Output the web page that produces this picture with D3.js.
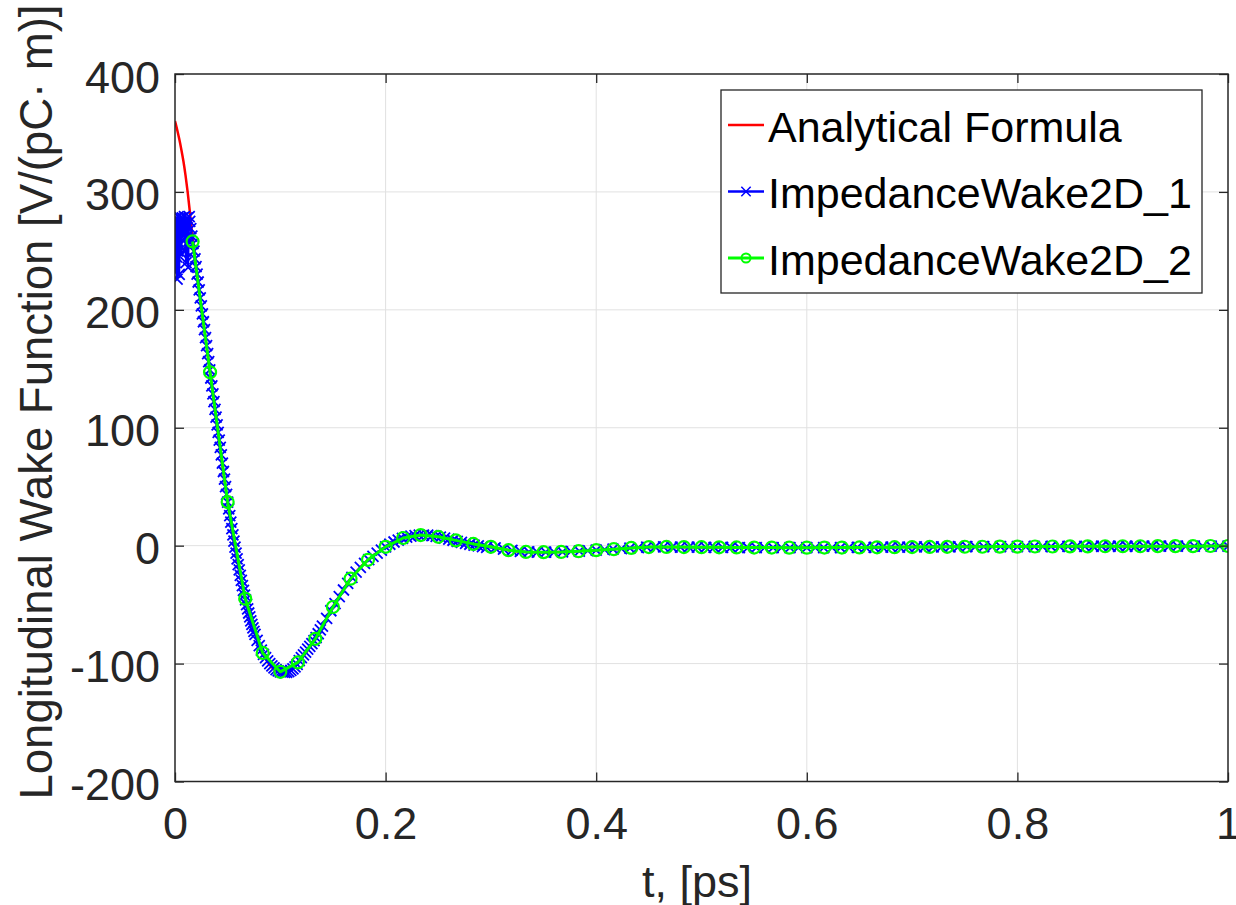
<!DOCTYPE html>
<html>
<head>
<meta charset="utf-8">
<script src="https://cdn.jsdelivr.net/npm/d3@7"></script>
<style>
body { margin: 0; background: #fff; }
text { font-family: "Liberation Sans", Arial, sans-serif; }
</style>
</head>
<body>
<svg width="1236" height="905"></svg>
<script>
// axis ticks
var xTicks = [0, 0.2, 0.4, 0.6, 0.8, 1];
var yTicks = [-200, -100, 0, 100, 200, 300, 400];
var seriesNames = ["Analytical Formula", "ImpedanceWake2D_1", "ImpedanceWake2D_2"];

// [t (ps), W (V/(pC m))]
var analytical = [
    [0, 360], [0.002, 353], [0.004, 345], [0.006, 336], [0.008, 326], [0.010, 314],
    [0.012, 300], [0.014, 284], [0.016, 267], [0.018, 252], [0.0333, 147], [0.05, 37], [0.0667, -45],
    [0.0833, -91], [0.1, -107], [0.1167, -99], [0.1333, -79], [0.15, -52], [0.1667, -28],
    [0.1833, -12], [0.2, -1], [0.2167, 6.5], [0.2333, 9], [0.25, 7.5], [0.2667, 4.5],
    [0.2833, 1.5], [0.3, -1], [0.3167, -3.8], [0.3333, -5.3], [0.35, -5.5], [0.3667, -5.3],
    [0.3833, -4.7], [0.4, -3.8], [0.4167, -3], [0.4333, -1.9], [0.45, -1.2], [0.5, -1.3],
    [0.6, -1.7], [0.7, -1.2], [0.8, -0.8], [0.9, -0.5], [1.0, -0.3]
];

var wake1 = [
    [0, 232], [0.0005, 270], [0.001, 278], [0.0015, 245], [0.002, 226], [0.0025, 250],
    [0.003, 279], [0.0035, 262], [0.004, 230], [0.0045, 255], [0.005, 278], [0.0055, 270],
    [0.006, 248], [0.0065, 262], [0.007, 278], [0.0075, 274], [0.008, 264], [0.0085, 268],
    [0.009, 279], [0.0095, 268], [0.010, 250], [0.0105, 240], [0.011, 262], [0.0115, 278],
    [0.012, 255], [0.0125, 236], [0.013, 258], [0.0135, 279], [0.014, 275],
    [0.015, 268.8], [0.016, 262.5], [0.017, 256.1], [0.018, 249.7], [0.019, 243.2], [0.020, 236.7],
    [0.021, 230.2], [0.022, 223.6], [0.023, 216.9], [0.024, 210.2], [0.025, 203.4], [0.026, 196.6],
    [0.027, 189.9], [0.028, 183.2], [0.029, 176.4], [0.030, 169.6], [0.031, 162.8], [0.032, 156],
    [0.033, 149.1], [0.034, 142.2], [0.035, 135.5], [0.036, 128.8], [0.037, 122.2], [0.038, 115.5],
    [0.039, 109], [0.040, 102.4], [0.041, 96], [0.042, 89.6], [0.043, 83.3], [0.044, 77],
    [0.045, 70], [0.046, 62.9], [0.047, 56.5], [0.048, 50], [0.049, 43.5], [0.050, 37],
    [0.051, 31.2], [0.052, 25.4], [0.053, 19.9], [0.054, 14.4], [0.055, 9.1], [0.056, 3.8],
    [0.057, -1.3], [0.058, -6.4], [0.059, -11.2], [0.060, -16], [0.061, -20.6], [0.062, -25.2],
    [0.063, -29.5], [0.064, -33.8], [0.065, -37.9], [0.066, -42], [0.067, -46], [0.068, -50],
    [0.069, -53.6], [0.070, -57.1], [0.071, -60.4], [0.072, -63.7], [0.073, -66.8], [0.074, -69.8],
    [0.075, -72.6], [0.076, -75.3], [0.078, -80.3], [0.080, -84.8],
    [0.082, -88.6], [0.084, -92.1], [0.086, -95], [0.088, -97.7], [0.090, -100], [0.092, -102],
    [0.094, -103.7], [0.096, -105.1], [0.098, -106.2], [0.100, -107], [0.102, -107.3], [0.104, -107.5],
    [0.106, -107.4], [0.108, -106.8], [0.110, -105.8], [0.112, -104.5], [0.114, -102.8], [0.116, -100.7],
    [0.118, -97.4], [0.120, -95], [0.122, -92.6], [0.124, -90.2], [0.126, -87.8], [0.128, -85.4],
    [0.130, -83], [0.132, -80.6], [0.134, -78], [0.136, -74.7], [0.138, -71.4], [0.140, -68.2],
    [0.144, -61.7], [0.148, -55.2], [0.152, -49.1], [0.156, -43.3], [0.160, -37.6], [0.164, -32],
    [0.168, -26.8], [0.172, -22.5], [0.176, -18.5], [0.180, -15], [0.184, -11.8], [0.188, -9],
    [0.192, -6.3], [0.196, -3.8], [0.200, -1], [0.204, 1.2], [0.208, 3.1], [0.212, 4.7],
    [0.216, 6.1], [0.220, 7.2], [0.224, 8], [0.228, 8.6], [0.232, 8.9], [0.236, 9],
    [0.240, 8.9], [0.244, 8.5], [0.248, 7.9], [0.252, 7.2], [0.256, 6.4], [0.260, 5.5],
    [0.264, 4.6], [0.268, 3.7], [0.272, 2.8], [0.276, 2], [0.280, 1.2], [0.284, 0.5],
    [0.288, -0.2], [0.292, -0.8], [0.296, -1.4], [0.304, -1.9], [0.312, -3.0], [0.320, -4.0],
    [0.328, -4.8], [0.336, -5.3], [0.344, -5.5], [0.352, -5.5], [0.360, -5.4], [0.368, -5.2],
    [0.376, -4.9], [0.384, -4.6], [0.392, -4.2], [0.400, -3.8], [0.408, -3.4], [0.416, -3.0],
    [0.424, -2.5], [0.432, -2.0], [0.440, -1.6], [0.448, -1.3], [0.456, -1.1], [0.464, -1.1],
    [0.472, -1.2], [0.480, -1.2], [0.488, -1.3], [0.496, -1.3], [0.504, -1.4], [0.512, -1.4],
    [0.520, -1.5], [0.528, -1.5], [0.536, -1.6], [0.544, -1.6], [0.552, -1.6], [0.560, -1.7],
    [0.568, -1.7], [0.576, -1.7], [0.584, -1.7], [0.592, -1.7], [0.600, -1.7], [0.608, -1.6],
    [0.616, -1.6], [0.624, -1.6], [0.632, -1.6], [0.640, -1.5], [0.648, -1.5], [0.656, -1.4],
    [0.664, -1.4], [0.672, -1.3], [0.680, -1.3], [0.688, -1.2], [0.696, -1.2], [0.704, -1.1],
    [0.712, -1.1], [0.720, -1.0], [0.728, -1.0], [0.736, -1.0], [0.744, -0.9], [0.752, -0.9],
    [0.760, -0.9], [0.768, -0.8], [0.776, -0.8], [0.784, -0.8], [0.792, -0.8], [0.800, -0.8],
    [0.808, -0.7], [0.816, -0.7], [0.824, -0.7], [0.832, -0.7], [0.840, -0.6], [0.848, -0.6],
    [0.856, -0.6], [0.864, -0.6], [0.872, -0.5], [0.880, -0.5], [0.888, -0.5], [0.896, -0.5],
    [0.904, -0.5], [0.912, -0.5], [0.920, -0.4], [0.928, -0.4], [0.936, -0.4], [0.944, -0.4],
    [0.952, -0.4], [0.960, -0.4], [0.968, -0.3], [0.976, -0.3], [0.984, -0.3], [0.992, -0.3],
    [1.000, -0.3]
];

var wake2 = [
    [0.0167, 258], [0.0333, 147], [0.05, 37], [0.0667, -45], [0.0833, -91], [0.1, -107],
    [0.1167, -99], [0.1333, -79], [0.15, -52], [0.1667, -28], [0.1833, -12], [0.2, -1],
    [0.2167, 6.5], [0.2333, 9], [0.25, 7.5], [0.2667, 4.5], [0.2833, 1.5], [0.3, -1],
    [0.3167, -3.8], [0.3333, -5.3], [0.35, -5.5], [0.3667, -5.3], [0.3833, -4.7], [0.4, -3.8],
    [0.4167, -3], [0.4333, -1.9], [0.45, -1.2], [0.4667, -1.1], [0.4833, -1.2], [0.5, -1.3],
    [0.5167, -1.4], [0.5333, -1.5], [0.55, -1.6], [0.5667, -1.6], [0.5833, -1.7], [0.6, -1.7],
    [0.6167, -1.6], [0.6333, -1.6], [0.65, -1.5], [0.6667, -1.4], [0.6833, -1.3], [0.7, -1.2],
    [0.7167, -1.1], [0.7333, -1.0], [0.75, -0.9], [0.7667, -0.9], [0.7833, -0.8], [0.8, -0.8],
    [0.8167, -0.7], [0.8333, -0.7], [0.85, -0.6], [0.8667, -0.6], [0.8833, -0.5], [0.9, -0.5],
    [0.9167, -0.5], [0.9333, -0.4], [0.95, -0.4], [0.9667, -0.4], [0.9833, -0.3], [1.0, -0.3]
];

var svg = d3.select("svg"),
    margin = {top: 74, right: 8, bottom: 123.5, left: 175},
    width = 1236 - margin.left - margin.right,
    height = 905 - margin.top - margin.bottom;
var g = svg.append("g").attr("transform", "translate(" + margin.left + "," + margin.top + ")");

var x = d3.scaleLinear().domain([0, 1]).range([0, width]);
var y = d3.scaleLinear().domain([-200, 400]).range([height, 0]);

g.append("clipPath").attr("id", "plotClip")
    .append("rect").attr("width", width).attr("height", height);

// grid
g.append("g").attr("class", "grid")
    .selectAll("line.gx").data(xTicks.slice(1, -1)).enter().append("line")
    .attr("x1", function(d) { return x(d); }).attr("x2", function(d) { return x(d); })
    .attr("y1", 0).attr("y2", height);
g.select(".grid")
    .selectAll("line.gy").data(yTicks.slice(1, -1)).enter().append("line")
    .attr("x1", 0).attr("x2", width)
    .attr("y1", function(d) { return y(d); }).attr("y2", function(d) { return y(d); });
g.selectAll(".grid line").attr("stroke", "#e1e1e1").attr("stroke-width", 1);

var line = d3.line()
    .x(function(d) { return x(d[0]); })
    .y(function(d) { return y(d[1]); });

var plot = g.append("g").attr("clip-path", "url(#plotClip)");

// analytical formula
plot.append("path").datum(analytical)
    .attr("fill", "none").attr("stroke", "#ff0000").attr("stroke-width", 2.5)
    .attr("stroke-linejoin", "round")
    .attr("d", line.curve(d3.curveMonotoneX));
line.curve(d3.curveLinear);

// ImpedanceWake2D_1
var xs = 5.5;
var xMark = "M" + (-xs) + "," + (-xs) + "L" + xs + "," + xs + "M" + (-xs) + "," + xs + "L" + xs + "," + (-xs);
plot.append("path").datum(wake1)
    .attr("fill", "none").attr("stroke", "#0000ff").attr("stroke-width", 2)
    .attr("stroke-linejoin", "round").attr("d", line);
plot.append("g").selectAll("path").data(wake1).enter().append("path")
    .attr("transform", function(d) { return "translate(" + x(d[0]) + "," + y(d[1]) + ")"; })
    .attr("d", xMark)
    .attr("fill", "none").attr("stroke", "#0000ff").attr("stroke-width", 1.8);

// ImpedanceWake2D_2
plot.append("path").datum(wake2)
    .attr("fill", "none").attr("stroke", "#00ff00").attr("stroke-width", 3)
    .attr("stroke-linejoin", "round").attr("d", line);
plot.append("g").selectAll("circle").data(wake2).enter().append("circle")
    .attr("cx", function(d) { return x(d[0]); })
    .attr("cy", function(d) { return y(d[1]); })
    .attr("r", 6)
    .attr("fill", "none").attr("stroke", "#00ff00").attr("stroke-width", 2.2);

// axes
var axisColor = "#262626";
var xAxis = d3.axisBottom(x).tickValues(xTicks).tickSize(-9).tickSizeOuter(0).tickPadding(26)
    .tickFormat(function(d) { return String(d); });
var yAxis = d3.axisLeft(y).tickValues(yTicks).tickSize(-9).tickSizeOuter(0).tickPadding(15)
    .tickFormat(function(d) { return String(d); });
var xTop = d3.axisTop(x).tickValues(xTicks).tickSize(-9).tickSizeOuter(0).tickFormat("");
var yRight = d3.axisRight(y).tickValues(yTicks).tickSize(-9).tickSizeOuter(0).tickFormat("");

var gx = g.append("g").attr("transform", "translate(0," + height + ")").call(xAxis);
var gy = g.append("g").call(yAxis);
var gt = g.append("g").call(xTop);
var gr = g.append("g").attr("transform", "translate(" + width + ",0)").call(yRight);

[gx, gy, gt, gr].forEach(function(a) {
    a.select(".domain").remove();
    a.selectAll(".tick line").attr("stroke", axisColor).attr("stroke-width", 1.3);
    a.selectAll("text").attr("fill", axisColor).style("font-size", "45px")
        .style("font-family", "'Liberation Sans', Arial, sans-serif");
});
gy.selectAll("text").attr("dy", "0.4em");

g.append("rect")
    .attr("width", width).attr("height", height)
    .attr("fill", "none").attr("stroke", axisColor).attr("stroke-width", 1.5);

// axis labels
svg.append("text")
    .attr("x", 697).attr("y", 897)
    .attr("text-anchor", "middle")
    .attr("fill", axisColor)
    .style("font-size", "45px")
    .text("t, [ps]");
svg.append("text")
    .attr("transform", "translate(52,402) rotate(-90)")
    .attr("text-anchor", "middle")
    .attr("fill", axisColor)
    .attr("textLength", 795).attr("lengthAdjust", "spacingAndGlyphs")
    .style("font-size", "46px")
    .text("Longitudinal Wake Function [V/(pC\u00b7 m)]");

// legend
var legend = svg.append("g").attr("class", "legend");
legend.append("rect")
    .attr("x", 721).attr("y", 90).attr("width", 481).attr("height", 203)
    .attr("fill", "#fff").attr("stroke", axisColor).attr("stroke-width", 1.3);
var colors = ["#ff0000", "#0000ff", "#00ff00"];
var rows = legend.selectAll("g.row").data(seriesNames).enter().append("g")
    .attr("class", "row")
    .attr("transform", function(d, i) { return "translate(728," + (125 + i * 66.5) + ")"; });
rows.append("line")
    .attr("x1", 0).attr("x2", 36).attr("y1", 0).attr("y2", 0)
    .attr("stroke", function(d, i) { return colors[i]; })
    .attr("stroke-width", function(d, i) { return i === 2 ? 3 : 2.5; });
rows.filter(function(d, i) { return i === 1; }).append("path")
    .attr("transform", "translate(18,0) scale(0.85)")
    .attr("d", xMark).attr("fill", "none").attr("stroke", "#0000ff").attr("stroke-width", 1.8);
rows.filter(function(d, i) { return i === 2; }).append("circle")
    .attr("cx", 18).attr("cy", 0).attr("r", 4.5)
    .attr("fill", "none").attr("stroke", "#00ff00").attr("stroke-width", 2);
rows.append("text")
    .attr("x", 40).attr("y", 16.7)
    .attr("fill", "#000")
    .style("font-size", "43px")
    .text(function(d) { return d; });
</script>
</body>
</html>
